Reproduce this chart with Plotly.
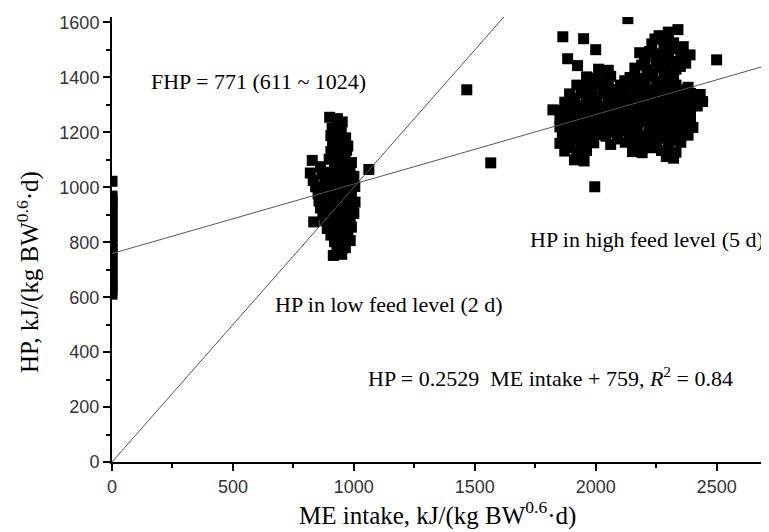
import plotly.graph_objects as go

# ---- data ----
# fasting heat production points (ME intake = 0)
fhp_x = [0]*24
fhp_y = [1022, 968, 955, 940, 925, 908, 892, 875, 858, 840, 823, 806, 790, 772,
         755, 738, 721, 705, 688, 671, 655, 640, 625, 611]

# low feed level (2 d)
low_x = [900, 932, 952, 910, 948, 905, 940, 966, 912, 946, 975, 905, 936, 970,
         828, 898, 930, 964, 990, 862, 920, 952, 984, 820, 868, 902, 936, 970, 1000,
         832, 880, 915, 950, 985, 842, 875, 905, 940, 975, 1004, 852, 890, 920, 955, 990,
         856, 885, 915, 946, 980, 1005, 862, 895, 930, 965, 995, 872, 905, 940, 975, 1000,
         834, 880, 915, 950, 985, 890, 925, 960, 990, 905, 940, 975, 920, 955, 985,
         930, 965, 915, 950, 1062]
low_y = [1255, 1250, 1238, 1215, 1212, 1188, 1192, 1180, 1160, 1165, 1150, 1130, 1128, 1135,
         1098, 1102, 1096, 1104, 1090, 1075, 1078, 1072, 1070, 1052, 1048, 1055, 1050, 1046, 1040,
         1025, 1028, 1022, 1026, 1020, 1002, 998, 1004, 1000, 996, 1003, 976, 972, 978, 974, 970,
         950, 952, 948, 954, 950, 946, 925, 928, 922, 926, 930, 902, 898, 904, 900, 905,
         874, 878, 872, 876, 870, 850, 852, 848, 855, 826, 824, 828, 802, 798, 806,
         776, 780, 752, 756, 1065]

# high feed level (5 d)
high_x = [2300, 2340, 2262,
          2232, 2282, 2322, 2362,
          2182, 2222, 2262, 2302, 2352, 2390,
          2202, 2250, 2290, 2332, 2372,
          2012, 2052, 2162, 2212, 2262, 2292, 2332,
          1962, 2002, 2062, 2142, 2182, 2232, 2282, 2322,
          1922, 1962, 2012, 2052, 2102, 2152, 2202, 2252, 2292, 2332, 2382,
          1892, 1942, 1982, 2032, 2082, 2122, 2172, 2212, 2262, 2302, 2352, 2392, 2432,
          1872, 1912, 1962, 2002, 2052, 2092, 2142, 2182, 2232, 2272, 2322, 2362, 2412, 2442,
          1862, 1902, 1952, 1992, 2042, 2082, 2132, 2172, 2222, 2262, 2312, 2352, 2392,
          1852, 1892, 1942, 1982, 2032, 2072, 2122, 2162, 2212, 2252, 2302, 2342, 2392,
          1852, 1902, 1952, 1992, 2042, 2082, 2132, 2172, 2222, 2262, 2302, 2352, 2402,
          1862, 1912, 1952, 2002, 2042, 2092, 2142, 2202, 2242, 2292, 2342, 2382,
          1852, 1892, 1942, 1992, 2062, 2122, 2162, 2202, 2252, 2302, 2352,
          1872, 1922, 1962, 2152, 2192, 2272, 2332,
          1912, 1952, 2292, 2322,
          1985, 2025, 2120, 2205, 2255, 2300,
          1940, 1985, 2030, 2075, 2125, 2175, 2225, 2270, 2315, 2360,
          1910, 1960, 2005, 2055, 2100, 2145, 2195, 2240, 2285, 2335, 2375, 2420,
          1885, 1930, 1975, 2020, 2065, 2110, 2155, 2200, 2245, 2290, 2335, 2375, 2420,
          1870, 1915, 1960, 2010, 2055, 2100, 2145, 2190, 2235, 2280, 2325, 2370,
          1870, 1920, 1970, 2015, 2060, 2105, 2150, 2195, 2240, 2285, 2330, 2375,
          1880, 1930, 1975, 2020, 2065, 2115, 2170, 2220, 2265, 2315, 2360,
          1870, 1915, 1965, 2090, 2140, 2180, 2225, 2275, 2325,
          1895, 1940, 2170, 2230, 2300,
          2245, 2300, 2340, 2205, 2270, 2310, 2350, 2190, 2235, 2300, 2160,
          1823, 1864, 1950, 2000, 1884, 1925, 2133, 2500, 1467, 1566, 1996]
high_y = [1565, 1574, 1552,
          1522, 1518, 1526, 1512,
          1490, 1494, 1486, 1498, 1488, 1482,
          1460, 1456, 1464, 1458, 1452,
          1430, 1426, 1434, 1428, 1436, 1424, 1430,
          1402, 1398, 1404, 1400, 1396, 1406, 1398, 1402,
          1372, 1368, 1375, 1366, 1372, 1368, 1374, 1370, 1366, 1372, 1364,
          1340, 1344, 1338, 1342, 1346, 1336, 1342, 1338, 1344, 1340, 1336, 1342, 1338,
          1310, 1314, 1308, 1312, 1306, 1314, 1310, 1308, 1312, 1306, 1314, 1310, 1308, 1312,
          1280, 1284, 1278, 1282, 1276, 1284, 1280, 1278, 1282, 1286, 1278, 1280, 1276,
          1250, 1254, 1248, 1252, 1246, 1254, 1250, 1248, 1252, 1246, 1254, 1250, 1248,
          1220, 1224, 1218, 1222, 1216, 1224, 1220, 1218, 1222, 1216, 1224, 1220, 1218,
          1190, 1194, 1188, 1192, 1186, 1194, 1190, 1188, 1192, 1186, 1194, 1190,
          1160, 1164, 1158, 1162, 1156, 1164, 1160, 1158, 1162, 1156, 1164,
          1132, 1128, 1134, 1130, 1126, 1134, 1128,
          1100, 1096, 1112, 1106,
          1395, 1390, 1388, 1392, 1386, 1394,
          1355, 1358, 1352, 1356, 1350, 1357, 1353, 1359, 1351, 1355,
          1325, 1322, 1328, 1324, 1320, 1327, 1323, 1329, 1321, 1326, 1322, 1328,
          1295, 1298, 1292, 1296, 1290, 1297, 1293, 1299, 1291, 1295, 1298, 1292, 1296,
          1265, 1262, 1268, 1264, 1260, 1267, 1263, 1269, 1261, 1266, 1262, 1268,
          1235, 1238, 1232, 1236, 1230, 1237, 1233, 1239, 1231, 1235, 1238, 1232,
          1205, 1202, 1208, 1204, 1200, 1207, 1203, 1209, 1201, 1206, 1202,
          1175, 1178, 1172, 1176, 1170, 1177, 1173, 1179, 1171,
          1145, 1142, 1148, 1144, 1140,
          1540, 1542, 1505, 1475, 1478, 1445, 1440, 1445, 1415, 1418, 1390,
          1282, 1548, 1541, 1501, 1468, 1443, 1614, 1464, 1355, 1089, 1002]

# fitted lines
fit_slope = 0.2529
fit_intercept = 759
fit_x = [0, 2700]
fit_y = [fit_slope * v + fit_intercept for v in fit_x]
one_x = [0, 1620]
one_y = [0, 1620]

x_range = [0, 2700]
y_range = [0, 1620]

fig = go.Figure()
marker = dict(symbol="square", size=11, color="black", line=dict(width=0))
for xs, ys in [(fhp_x, fhp_y), (low_x, low_y), (high_x, high_y)]:
    fig.add_trace(go.Scatter(x=xs, y=ys, mode="markers", marker=marker,
                             showlegend=False, hoverinfo="skip"))
fig.add_trace(go.Scatter(x=fit_x, y=fit_y, mode="lines",
                         line=dict(color="#555", width=1), showlegend=False))
fig.add_trace(go.Scatter(x=one_x, y=one_y, mode="lines",
                         line=dict(color="#555", width=1), showlegend=False))

serif = "Liberation Serif, Times New Roman, serif"
sans = "Liberation Sans, Arial, sans-serif"
axis_common = dict(showline=True, linewidth=2, linecolor="black", ticks="outside",
                   ticklen=7, tickwidth=2, tickcolor="black", showgrid=False,
                   zeroline=False, tickfont=dict(family=sans, size=18, color="#333"),
                   mirror=False)
fig.update_xaxes(range=x_range, dtick=500, tick0=0,
                 minor=dict(dtick=250, ticklen=4, tickwidth=2, tickcolor="black", ticks="outside"),
                 **axis_common)
fig.update_yaxes(range=y_range, dtick=200, tick0=0,
                 minor=dict(dtick=100, ticklen=4, tickwidth=2, tickcolor="black", ticks="outside"),
                 **axis_common)

tf = dict(family=serif, size=22, color="black")
titlef = dict(family=serif, size=25, color="black")
annos = [
    dict(x=607, y=1384, text="FHP = 771 (611 ~ 1024)"),
    dict(x=1145, y=572, text="HP in low feed level (2 d)"),
    dict(x=2211, y=809, text="HP in high feed level (5 d)"),
    dict(x=1814, y=310, text="HP = 0.2529  ME intake + 759, <i>R</i><sup>2</sup> = 0.84"),
]
for a in annos:
    fig.add_annotation(xref="x", yref="y", showarrow=False, font=tf,
                       xanchor="center", yanchor="middle", **a)
fig.add_annotation(xref="paper", yref="paper", x=0.498, y=-0.157, showarrow=False,
                   text="ME intake, kJ/(kg BW<sup>0.6</sup>·d)", font=titlef,
                   xanchor="center", yanchor="bottom")
fig.add_annotation(xref="paper", yref="paper", x=-0.128, y=0.428, showarrow=False,
                   text="HP, kJ/(kg BW<sup>0.6</sup>·d)", font=titlef, textangle=-90,
                   xanchor="center", yanchor="middle")

# page body has an 8px margin, so the figure is sized to fit inside the window
fig.update_layout(width=761, height=524, margin=dict(l=104, r=4, t=9, b=70),
                  plot_bgcolor="white", paper_bgcolor="white")
fig.write_html("out.html")
